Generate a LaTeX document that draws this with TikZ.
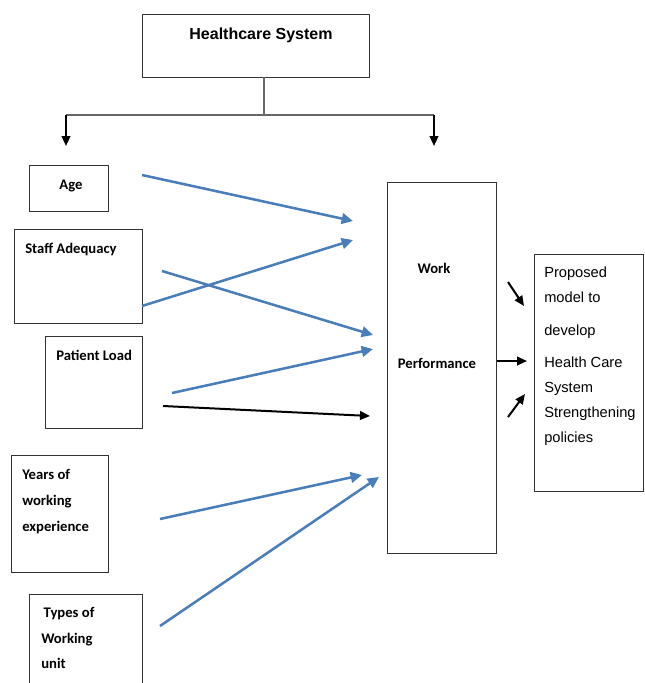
\documentclass[tikz,border=0pt]{standalone}
\usepackage{fontspec}
\newfontfamily\calibrifont{Carlito}
\newfontfamily\arialfont{Liberation Sans}
\usetikzlibrary{positioning, arrows.meta, calc}
\definecolor{linkblue}{RGB}{74,126,187}

\begin{document}
\begin{tikzpicture}[x=0.75pt, y=-0.75pt]
		\tikzset{
			>=Triangle,
			box/.style={draw=black!80, line width=0.8pt, inner sep=0pt, anchor=north west},
			lbl/.style={font=\calibrifont\bfseries\fontsize{11}{19.5}\selectfont, inner sep=0pt, align=left},
			plain/.style={font=\arialfont\fontsize{11}{18.75}\selectfont, inner sep=0pt, align=left},
			feed/.style={draw=linkblue, line width=1.9pt, -{Triangle[length=8.5pt, width=8pt]}},
			push/.style={draw=black, line width=1.5pt, -{Triangle[length=7.5pt, width=6.5pt]}},
			tree/.style={draw=black!60, line width=0.8pt}
		}
		\path[use as bounding box, clip] (0,0) rectangle (644,683);
		
		% Top box
		\node[box, minimum width=170.25pt, minimum height=47.25pt] (hs) at (142,14) {};
		\node[font=\arialfont\bfseries\fontsize{12}{14}\selectfont, inner sep=0pt, anchor=base] (hsT) at (261,39.5) {Healthcare System};
		
		% Factor boxes
		\node[box, minimum width=59.25pt, minimum height=34.5pt] (age) at (29,165) {};
		\node[box, minimum width=96pt, minimum height=70.5pt] (staff) at (14,229) {};
		\node[box, minimum width=72.75pt, minimum height=69pt] (patient) at (45,336) {};
		\node[box, minimum width=72.75pt, minimum height=87.75pt] (years) at (11,455) {};
		\node[box, minimum width=84.75pt, minimum height=82.5pt] (types) at (29,594) {};
		
		\node[lbl, anchor=base] (ageT) at (71,189) {Age};
		\node[lbl, anchor=base west] (staffT) at (25,253) {Staff Adequacy};
		\node[lbl, anchor=base west] (patientT) at (56,360) {Patient Load};
		\node[lbl, anchor=north west] (yearsT) at (22,469) {Years of\\working\\experience};
		\node[lbl, anchor=north west, font=\calibrifont\bfseries\fontsize{11}{19.1}\selectfont] (typesT) at (41,607.5) {\,Types of\\Working\\unit};
		
		% Work performance
		\node[box, minimum width=81.75pt, minimum height=278.25pt] (work) at (387,182) {};
		\node[lbl, anchor=base] (workT) at (434,273.7) {Work};
		\node[lbl, anchor=base] (perfT) at (437,368.7) {Performance};
		
		% Proposed model
		\node[box, minimum width=82pt, minimum height=177.75pt] (plan) at (534,254) {};
		\node[plain, anchor=north west] (planT) at (544,266.5) {Proposed\\model to\\[6pt]develop\\[5.25pt]Health Care\\System\\Strengthening\\policies};
		
		% Split from the top box
		\coordinate (hsfoot) at (264,77);
		\coordinate (split) at (264,115);
		\coordinate (splitL) at (66,115);
		\coordinate (splitR) at (434,115);
		\coordinate (dropL) at (66,146);
		\coordinate (dropR) at (434,146);
		\draw[tree] (hsfoot) -- (split);
		\draw[tree] (splitL) -- (splitR);
		\draw[push] (splitL) -- (dropL);
		\draw[push] (splitR) -- (dropR);
		
		% Arrow ends
		\coordinate (ageS) at (142,175);      \coordinate (ageE) at (353,221);
		\coordinate (staffS) at (142,306);    \coordinate (staffE) at (353,240);
		\coordinate (staffS2) at (162,271);   \coordinate (staffE2) at (373,335);
		\coordinate (patientS) at (172,393);  \coordinate (patientE) at (373,349);
		\coordinate (patientS2) at (163,406); \coordinate (patientE2) at (370,416);
		\coordinate (yearsS) at (160,519);    \coordinate (yearsE) at (362,475);
		\coordinate (typesS) at (160,626);    \coordinate (typesE) at (379,477);
		
		\draw[feed] (ageS) -- (ageE);
		\draw[feed] (staffS) -- (staffE);
		\draw[feed] (staffS2) -- (staffE2);
		\draw[feed] (patientS) -- (patientE);
		\draw[push] (patientS2) -- (patientE2);
		\draw[feed] (yearsS) -- (yearsE);
		\draw[feed] (typesS) -- (typesE);
		
		% Into the proposed model
		\coordinate (inA) at (508,282);  \coordinate (inAE) at (524,306);
		\coordinate (inBE) at (527,361);
		\coordinate (inC) at (508,417);  \coordinate (inCE) at (525,394);
		\draw[push] (inA) -- (inAE);
		\draw[push] (work.east |- inBE) -- (inBE);
		\draw[push] (inC) -- (inCE);
		
	\end{tikzpicture}
\end{document}
